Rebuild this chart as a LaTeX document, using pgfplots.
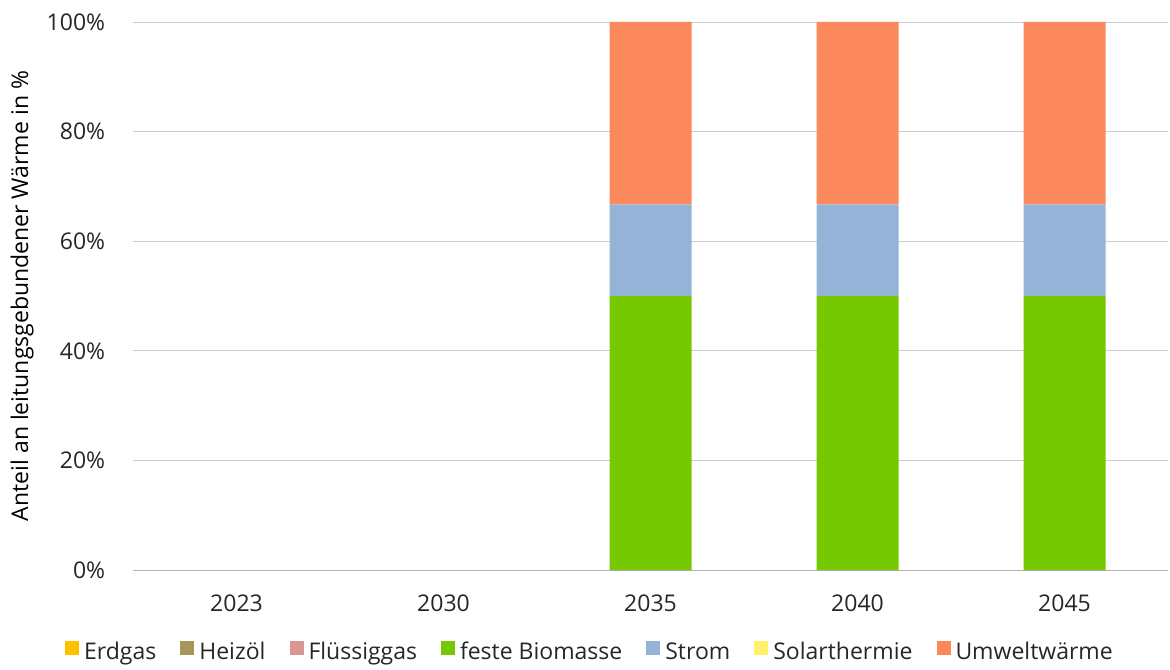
\documentclass[border=0pt]{standalone}
\usepackage{pgfplots}
\pgfplotsset{compat=1.18}
\usepackage{fontspec}
\setmainfont{Open Sans}
\definecolor{cErd}{RGB}{255,192,0}
\definecolor{cHeiz}{RGB}{165,152,90}
\definecolor{cFl}{RGB}{218,150,148}
\definecolor{cBio}{RGB}{118,200,0}
\definecolor{cStr}{RGB}{149,179,215}
\definecolor{cSol}{RGB}{255,240,106}
\definecolor{cUmw}{RGB}{252,137,91}
\definecolor{txt}{RGB}{38,38,38}
\begin{document}
\begin{tikzpicture}
\fontsize{23}{27}\selectfont
\begin{axis}[
  name=ax,
  scale only axis,
  width=1035pt, height=548pt,
  ybar stacked,
  bar width=82pt,
  xmin=-0.5, xmax=4.5,
  ymin=0, ymax=100,
  xtick={0,1,2,3,4},
  xticklabels={2023,2030,2035,2040,2045},
  ytick={0,20,40,60,80,100},
  yticklabel={\pgfmathprintnumber{\tick}\%},
  /pgf/number format/assume math mode=true,
  ymajorgrids,
  grid style={draw=black!20, line width=0.8pt},
  axis x line*=bottom,
  axis y line*=left,
  y axis line style={draw=none},
  x axis line style={draw=black!30, line width=1pt},
  major tick length=0pt,
  xtick style={draw=none},
  ytick style={draw=none},
  ticklabel style={font=\fontsize{23}{27}\selectfont, text=txt},
  yticklabel style={xshift=-20pt},
  xticklabel style={yshift=-17pt},
  ylabel={Anteil an leitungsgebundener Wärme in \%},
  ylabel style={font=\fontsize{23}{27}\selectfont, text=txt},
  every axis y label/.style={at={(axis description cs:-0.1072,0.5)}, rotate=90, anchor=center},
  legend style={at={(0.4415,-0.1515)}, anchor=center, draw=none, fill=none,
    font=\fontsize{23}{27}\selectfont, text=txt, legend columns=-1,
    nodes={text height=17pt, text depth=5pt, inner xsep=2pt},
    /tikz/every odd column/.append style={column sep=3pt},
    /tikz/every even column/.append style={column sep=22pt}},
  legend image code/.code={\fill[#1] (0pt,-1.5pt) rectangle (14pt,12.5pt);},
  clip=false,
]
\addplot[fill=cErd, draw=none] coordinates {(0,0) (1,0) (2,0) (3,0) (4,0)};
\addlegendentry{Erdgas}
\addplot[fill=cHeiz, draw=none] coordinates {(0,0) (1,0) (2,0) (3,0) (4,0)};
\addlegendentry{Heizöl}
\addplot[fill=cFl, draw=none] coordinates {(0,0) (1,0) (2,0) (3,0) (4,0)};
\addlegendentry{Flüssiggas}
\addplot[fill=cBio, draw=none] coordinates {(0,0) (1,0) (2,50) (3,50) (4,50)};
\addlegendentry{feste Biomasse}
\addplot[fill=cStr, draw=none] coordinates {(0,0) (1,0) (2,16.7) (3,16.7) (4,16.7)};
\addlegendentry{Strom}
\addplot[fill=cSol, draw=none] coordinates {(0,0) (1,0) (2,0) (3,0) (4,0)};
\addlegendentry{Solarthermie}
\addplot[fill=cUmw, draw=none] coordinates {(0,0) (1,0) (2,33.3) (3,33.3) (4,33.3)};
\addlegendentry{Umweltwärme}
\end{axis}
\pgfresetboundingbox
\path[use as bounding box] ([shift={(-133pt,-99pt)}]ax.south west) rectangle ([shift={(2pt,22pt)}]ax.north east);
\end{tikzpicture}
\end{document}
